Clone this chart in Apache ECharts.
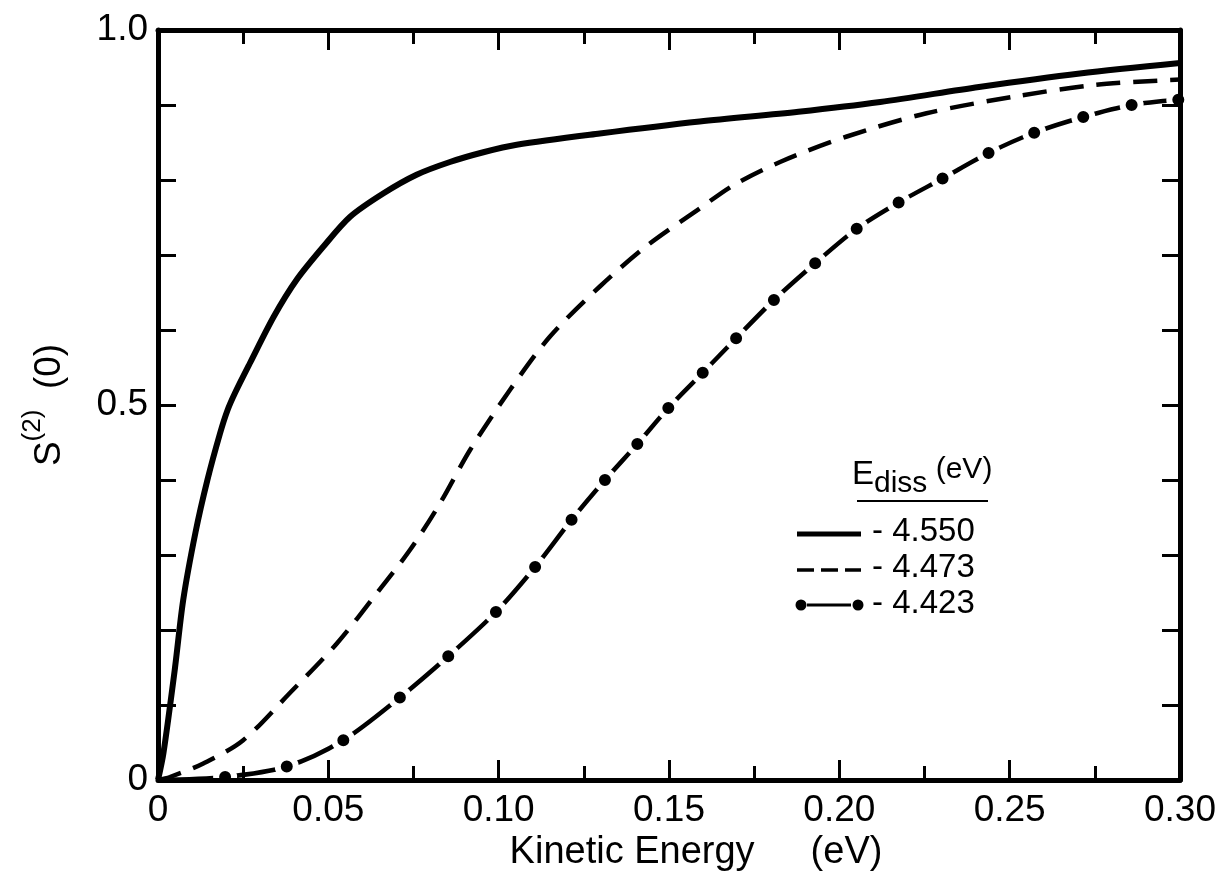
<!DOCTYPE html>
<html>
<head>
<meta charset="utf-8">
<script src="https://cdn.jsdelivr.net/npm/echarts@6/dist/echarts.min.js"></script>
<style>
html,body{margin:0;padding:0;background:#fff;}
#chart{width:1220px;height:889px;}
</style>
</head>
<body>
<div id="chart"></div>
<script>
// ---- data ----
var xTickLabels = ['0', '0.05', '0.10', '0.15', '0.20', '0.25', '0.30'];
var yTickLabels = ['0', '0.5', '1.0'];
var xTitleMain = 'Kinetic Energy', xTitleUnit = '(eV)';
var legendTitle = 'E', legendSub = 'diss', legendUnit = '(eV)';
var seriesNames = ['- 4.550', '- 4.473', '- 4.423'];

var solidX = [0, 0.0016, 0.005, 0.0074, 0.011, 0.0145, 0.0182, 0.0204, 0.0226, 0.027, 0.034, 0.0407, 0.0485, 0.0564, 0.0661, 0.0759, 0.0857, 0.0955, 0.1053, 0.1297, 0.159, 0.188, 0.212, 0.241, 0.2706, 0.30];
var solidY = [0, 0.036, 0.15, 0.24, 0.33, 0.40, 0.462, 0.493, 0.516, 0.556, 0.618, 0.667, 0.711, 0.751, 0.782, 0.807, 0.824, 0.837, 0.847, 0.862, 0.878, 0.891, 0.904, 0.924, 0.942, 0.956];

var dashX = [0, 0.0035, 0.0133, 0.025, 0.0387, 0.0525, 0.0642, 0.074, 0.0828, 0.0916, 0.1033, 0.115, 0.1297, 0.1434, 0.159, 0.1689, 0.1826, 0.2022, 0.2256, 0.2511, 0.2755, 0.30];
var dashY = [0, 0.004, 0.022, 0.053, 0.116, 0.182, 0.249, 0.307, 0.369, 0.44, 0.52, 0.591, 0.658, 0.712, 0.762, 0.793, 0.824, 0.858, 0.889, 0.911, 0.927, 0.934];

var dotX = [0, 0.0197, 0.0378, 0.0544, 0.071, 0.0852, 0.0992, 0.1107, 0.1214, 0.1312, 0.1407, 0.1498, 0.1599, 0.1697, 0.1808, 0.1929, 0.2051, 0.2174, 0.2303, 0.2438, 0.2572, 0.2716, 0.2858, 0.2995];
var dotY = [0, 0.004, 0.018, 0.053, 0.11, 0.165, 0.224, 0.284, 0.347, 0.40, 0.448, 0.496, 0.543, 0.589, 0.64, 0.689, 0.735, 0.770, 0.802, 0.836, 0.863, 0.884, 0.90, 0.907];

// ---- build chart ----
var FONT = '"Liberation Sans", Arial, Helvetica, sans-serif';
function pairs(xs, ys) { return xs.map(function (x, i) { return [x, ys[i]]; }); }
var dotData = pairs(dotX, dotY).map(function (p, i) {
  return i === 0 ? { value: p, symbol: 'none' } : { value: p };
});

var chart = echarts.init(document.getElementById('chart'), null, { renderer: 'canvas' });

var tickStyle = { color: '#000', width: 3 };
var axisLineStyle = { color: '#000', width: 5 };

function xAxisCfg(pos, showLabel) {
  return {
    type: 'value', position: pos, min: 0, max: 0.3, interval: 0.05, z: 5,
    axisLine: { show: true, onZero: false, lineStyle: axisLineStyle },
    axisTick: { show: true, inside: true, length: 20, lineStyle: tickStyle },
    minorTick: { show: true, splitNumber: 2, length: 14, lineStyle: tickStyle },
    splitLine: { show: false },
    axisLabel: {
      show: showLabel, margin: 12, fontSize: 37, color: '#000', fontFamily: FONT,
      formatter: function (v) { return xTickLabels[Math.round(v / 0.05)]; }
    }
  };
}
function yAxisCfg(pos, showLabel) {
  return {
    type: 'value', position: pos, min: 0, max: 1, interval: 0.5, z: 5,
    axisLine: { show: true, onZero: false, lineStyle: axisLineStyle },
    axisTick: { show: true, inside: true, length: 18, lineStyle: tickStyle },
    minorTick: { show: true, splitNumber: 5, length: 18, lineStyle: tickStyle },
    splitLine: { show: false },
    axisLabel: {
      show: showLabel, margin: 10, fontSize: 37, color: '#000', fontFamily: FONT,
      formatter: function (v) { return yTickLabels[Math.round(v / 0.5)]; }
    }
  };
}

var xb = xAxisCfg('bottom', true);
xb.name = '{a|' + xTitleMain + '}{b|' + xTitleUnit + '}';
xb.nameLocation = 'middle';
xb.nameGap = 54;
xb.nameTextStyle = {
  color: '#000', fontFamily: FONT,
  rich: {
    a: { fontSize: 38, fontFamily: FONT, color: '#000', padding: [0, 0, 0, 54] },
    b: { fontSize: 38, fontFamily: FONT, color: '#000', padding: [0, 0, 0, 56] }
  }
};

var yl = yAxisCfg('left', true);
yl.name = '{a|S}{b|(2)}{a|  (0)}';
yl.nameLocation = 'middle';
yl.nameGap = 90;
yl.nameTextStyle = {
  color: '#000', fontFamily: FONT,
  rich: {
    a: { fontSize: 37, fontFamily: FONT, color: '#000', lineHeight: 48, verticalAlign: 'bottom' },
    b: { fontSize: 26, fontFamily: FONT, color: '#000', lineHeight: 48, verticalAlign: 'top' }
  }
};

var LX0 = 797, LX1 = 861;
var option = {
  animation: false,
  backgroundColor: '#fff',
  grid: { left: 158, right: 40, top: 30, bottom: 109, containLabel: false },
  xAxis: [xb, xAxisCfg('top', false)],
  yAxis: [yl, yAxisCfg('right', false)],
  series: [
    {
      name: seriesNames[0], type: 'line', data: pairs(solidX, solidY),
      symbol: 'none', smooth: 0.3, z: 3,
      lineStyle: { color: '#000', width: 6 }
    },
    {
      name: seriesNames[1], type: 'line', data: pairs(dashX, dashY),
      symbol: 'none', smooth: 0.3, z: 3,
      lineStyle: { color: '#000', width: 4.5, type: [24, 13] }
    },
    {
      name: seriesNames[2], type: 'line', data: dotData,
      symbol: 'circle', symbolSize: 18, showSymbol: true, showAllSymbol: true, smooth: 0.3, z: 3,
      itemStyle: { color: '#000', borderColor: '#fff', borderWidth: 6 },
      lineStyle: { color: '#000', width: 4.5 }
    }
  ],
  graphic: [
    {
      type: 'text', left: 852, top: 455, z: 10,
      style: {
        text: '{e|' + legendTitle + '}{s|' + legendSub + '}{u| ' + legendUnit + '}',
        rich: {
          e: { fontSize: 33, fontFamily: FONT, fill: '#000', lineHeight: 44, verticalAlign: 'top', padding: [3, 0, 0, 0] },
          s: { fontSize: 30, fontFamily: FONT, fill: '#000', lineHeight: 44, verticalAlign: 'bottom' },
          u: { fontSize: 30, fontFamily: FONT, fill: '#000', lineHeight: 44, verticalAlign: 'top' }
        }
      }
    },
    { type: 'line', z: 10, shape: { x1: 857, y1: 501, x2: 988, y2: 501 }, style: { stroke: '#000', lineWidth: 2 } },
    { type: 'line', z: 10, shape: { x1: LX0, y1: 534, x2: LX1, y2: 534 }, style: { stroke: '#000', lineWidth: 5 } },
    { type: 'line', z: 10, shape: { x1: LX0, y1: 570, x2: LX1, y2: 570 }, style: { stroke: '#000', lineWidth: 3.5, lineDash: [17, 7] } },
    { type: 'line', z: 10, shape: { x1: LX0 + 10, y1: 605, x2: LX1 - 10, y2: 605 }, style: { stroke: '#000', lineWidth: 3 } },
    { type: 'circle', z: 10, shape: { cx: LX0 + 4, cy: 605, r: 5.5 }, style: { fill: '#000' } },
    { type: 'circle', z: 10, shape: { cx: LX1 - 3, cy: 605, r: 5.5 }, style: { fill: '#000' } },
    { type: 'text', z: 10, left: 872, top: 515, style: { text: seriesNames[0], font: '33px ' + FONT, fill: '#000' } },
    { type: 'text', z: 10, left: 872, top: 551, style: { text: seriesNames[1], font: '33px ' + FONT, fill: '#000' } },
    { type: 'text', z: 10, left: 872, top: 587, style: { text: seriesNames[2], font: '33px ' + FONT, fill: '#000' } }
  ]
};
chart.setOption(option);
</script>
</body>
</html>
